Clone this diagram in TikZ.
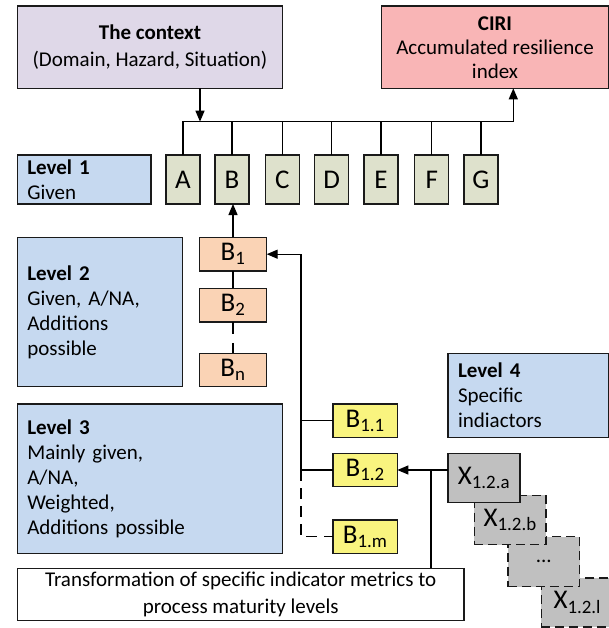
\documentclass[tikz,border=0pt]{standalone}
\usepackage{fontspec}
\setmainfont{Carlito}
\usetikzlibrary{arrows.meta}
\definecolor{ctxfill}{HTML}{DFD8E8}
\definecolor{cirifill}{HTML}{F9B5B6}
\definecolor{lvlfill}{HTML}{C6D9F0}
\definecolor{letfill}{HTML}{DEE1CC}
\definecolor{bfill}{HTML}{FAD3B5}
\definecolor{yfill}{HTML}{F9F47F}
\definecolor{xfill}{HTML}{C0C0C0}
\definecolor{edge}{HTML}{1A1A1A}
\begin{document}
\begin{tikzpicture}[x=1pt,y=-1pt,
  box/.style={draw=edge, line width=1.2pt, rectangle, inner sep=0pt, outer sep=0pt},
  lvl/.style={box, fill=lvlfill, align=left, font=\fontsize{21}{25}\selectfont},
  letter/.style={box, fill=letfill, minimum width=34pt, minimum height=49pt, font=\fontsize{27}{30}\selectfont},
  bbox/.style={box, fill=bfill, minimum width=67.4pt, minimum height=33.5pt, font=\fontsize{27}{30}\selectfont},
  ybox/.style={box, fill=yfill, minimum width=64.3pt, minimum height=33.3pt, font=\fontsize{27}{30}\selectfont},
  xbox/.style={box, fill=xfill, minimum width=72pt, minimum height=49pt, font=\fontsize{27}{30}\selectfont},
  xdash/.style={xbox, dash pattern=on 9pt off 5pt},
  ln/.style={draw=black, line width=1.3pt},
  arr/.style={ln, -{Triangle[length=11pt,width=9pt]}},
  dln/.style={ln, dash pattern=on 11pt off 7pt}
]
\useasboundingbox (0,0) rectangle (609,628);

% top boxes
\node[box, fill=ctxfill, minimum width=265.4pt, minimum height=82.3pt, align=center,
  font=\fontsize{21}{27.5}\selectfont] (ctx) at (150,47.2) {\textbf{The context}\\(Domain, Hazard, Situation)};
\node[box, fill=cirifill, minimum width=226.6pt, minimum height=82.3pt, align=center,
  font=\fontsize{21}{24}\selectfont] (ciri) at (495,47.2) {\textbf{CIRI}\\Accumulated resilience\\index};

% level boxes
\node[lvl, minimum width=133.7pt, minimum height=49pt, text width=113.7pt] (l1) at (84.2,179.5) {\textbf{Level 1}\\Given};
\node[lvl, minimum width=165.4pt, minimum height=149.4pt, text width=145.4pt] (l2) at (100,312) {\textbf{Level 2}\\Given, A/NA,\\Additions\\possible};
\node[lvl, minimum width=265.4pt, minimum height=149.3pt, text width=245.4pt] (l3) at (150,478.7) {\textbf{Level 3}\\Mainly given,\\A/NA,\\Weighted,\\Additions possible};
\node[lvl, minimum width=160.3pt, minimum height=84pt, text width=140.3pt] (l4) at (528.2,395.3) {\textbf{Level 4}\\Specific\\indiactors};

% level 1 letters
\node[letter] (A) at (183,179.5) {A};
\node[letter] (B) at (232,179.5) {B};
\node[letter] (C) at (282.3,179.5) {C};
\node[letter] (D) at (331.7,179.5) {D};
\node[letter] (E) at (381,179.5) {E};
\node[letter] (F) at (431.7,179.5) {F};
\node[letter] (G) at (481,179.5) {G};

% level 2
\node[bbox] (B1) at (233,254.2) {B\textsubscript{1}};
\node[bbox] (B2) at (233,305.2) {B\textsubscript{2}};
\node[bbox] (Bn) at (233,370) {B\textsubscript{n}};

% level 3
\node[ybox] (B11) at (365.2,420.7) {B\textsubscript{1.1}};
\node[ybox] (B12) at (365.2,470) {B\textsubscript{1.2}};
\node[ybox] (B1m) at (365.2,536.7) {B\textsubscript{1.m}};

% level 4
\node[xdash] (Xl) at (577.3,602.5) {X\textsubscript{1.2.l}};
\node[xdash, minimum width=71.7pt, minimum height=50pt, font=\fontsize{21}{24}\selectfont] (Xd) at (543.8,561.7) {...};
\node[xdash, minimum width=71.7pt, minimum height=49.4pt] (Xb) at (510.2,520) {X\textsubscript{1.2.b}};
\node[xbox] (Xa) at (484,477.8) {X\textsubscript{1.2.a}};

% transformation
\node[box, fill=white, minimum width=446.7pt, minimum height=52pt, align=center,
  font=\fontsize{21}{27}\selectfont] (tr) at (240.7,594.3) {Transformation of specific indicator metrics to\\process maturity levels};

% bus
\coordinate (cx) at (200,121.7);
\coordinate (cj) at (513.3,121.7);
\draw[arr] (cx |- ctx.south) -- (cx);
\draw[arr] (A.north) |- (cj) -- (cj |- ciri.south);
\foreach \n in {B,C,D,E,F,G} \draw[ln] (\n.north) -- (\n.north |- cj);

% level 2 chain
\draw[arr] (B1.north) -- (B1.north |- B.south);
\draw[ln] (B1.south) -- (B2.north);
\draw[ln, dash pattern=on 12.3pt off 8.7pt] (B2.south) -- (Bn.north);

% level 3 links
\coordinate (vt) at (301,0);
\draw[arr] (vt |- B12.west) -- (vt |- B1.east) -- (B1.east);
\draw[ln] (vt |- B11.west) -- (B11.west);
\draw[ln] (vt |- B12.west) -- (B12.west);
\draw[dln] (vt |- B12.west) |- (B1m.west);

% level 4 links
\coordinate (xj) at (431,0);
\draw[arr] (Xa.west |- B12.east) -- (B12.east);
\draw[ln] (xj |- B12.east) -- (xj |- tr.north);
\end{tikzpicture}
\end{document}
